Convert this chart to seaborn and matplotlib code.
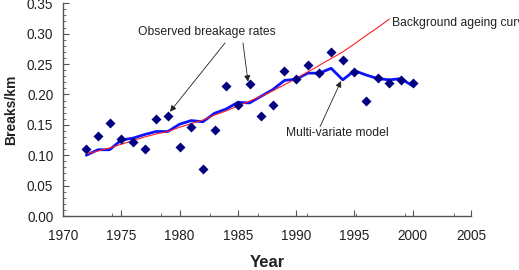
import matplotlib
matplotlib.use("Agg")
import matplotlib.pyplot as plt
import seaborn as sns
import numpy as np
import pandas as pd

# ---- data ----
years_obs = list(range(1972, 2001))
observed = [0.110, 0.132, 0.153, 0.127, 0.121, 0.110, 0.160, 0.164, 0.114, 0.147,
            0.077, 0.142, 0.214, 0.183, 0.217, 0.164, 0.183, 0.238, 0.225, 0.248,
            0.235, 0.269, 0.257, 0.237, 0.190, 0.227, 0.218, 0.223, 0.219]
multivariate = [0.100, 0.109, 0.109, 0.125, 0.128, 0.134, 0.139, 0.139, 0.151, 0.157,
                0.155, 0.169, 0.176, 0.187, 0.186, 0.197, 0.208, 0.223, 0.225, 0.235,
                0.235, 0.243, 0.224, 0.239, 0.232, 0.226, 0.224, 0.226, 0.214]
years_bg = list(range(1972, 1999))
background = [0.102, 0.107, 0.112, 0.118, 0.124, 0.130, 0.135, 0.139, 0.146, 0.152,
              0.158, 0.166, 0.173, 0.181, 0.189, 0.197, 0.206, 0.216, 0.226, 0.237,
              0.248, 0.259, 0.270, 0.283, 0.297, 0.310, 0.324]
x_ticks = [1970, 1975, 1980, 1985, 1990, 1995, 2000, 2005]
y_ticks = [0.00, 0.05, 0.10, 0.15, 0.20, 0.25, 0.30, 0.35]

df_obs = pd.DataFrame({"Year": years_obs, "Observed": observed, "Model": multivariate})
df_bg = pd.DataFrame({"Year": years_bg, "Background": background})

sns.set_style("ticks")
plt.rcParams["font.family"] = ["Liberation Sans", "DejaVu Sans"]

fig = plt.figure(figsize=(5.19, 2.70), dpi=100)
ax = fig.add_axes([0.1214, 0.2, 0.9075 - 0.1214, 0.988 - 0.2])

sns.lineplot(data=df_obs, x="Year", y="Model", ax=ax, color="#0a14ff", lw=2.0, zorder=2)
sns.lineplot(data=df_bg, x="Year", y="Background", ax=ax, color="#ff2020", lw=0.8, zorder=3)
sns.scatterplot(data=df_obs, x="Year", y="Observed", ax=ax, marker="D", s=26,
                color="#000080", edgecolor="#000080", linewidth=0, zorder=4)

ax.set_xlim(1970, 2005)
ax.set_ylim(0, 0.35)
ax.set_xticks(x_ticks)
ax.set_xticklabels([str(t) for t in x_ticks])
ax.set_yticks(y_ticks)
ax.set_yticklabels([f"{t:.2f}" for t in y_ticks])
ax.set_xticks([1970 + k * 4.19 for k in range(1, 9)], minor=True)
ax.set_yticks(np.arange(0, 0.351, 0.01), minor=True)

tc = "#222222"
ax.tick_params(axis="x", which="major", direction="in", length=4, width=0.8,
               labelsize=9.8, colors="#555555", labelcolor=tc, pad=9)
ax.tick_params(axis="y", which="major", direction="in", length=4, width=0.8,
               labelsize=9.8, colors="#555555", labelcolor=tc, pad=7)
ax.tick_params(axis="both", which="minor", direction="in", length=2.5, width=0.6,
               colors="#555555")
for s in ["top", "right"]:
    ax.spines[s].set_visible(False)
for s in ["left", "bottom"]:
    ax.spines[s].set_color("#555555")
    ax.spines[s].set_linewidth(1.0)

ax.set_xlabel("Year", fontsize=12, fontweight="bold", color=tc, labelpad=9)
ax.set_ylabel("Breaks/km", fontsize=10, fontweight="bold", color=tc, labelpad=6)

ap = dict(arrowstyle="-|>", color="#222222", lw=0.6, mutation_scale=9, shrinkA=0, shrinkB=0)
ax.text(1982.35, 0.303, "Observed breakage rates", fontsize=8.7, ha="center", va="center", color=tc)
ax.annotate("", xy=(1979.18, 0.1716), xytext=(1983.9, 0.2847), arrowprops=ap)
ax.annotate("", xy=(1985.87, 0.221), xytext=(1985.44, 0.2847), arrowprops=ap)
ax.text(1993.5, 0.1366, "Multi-variate model", fontsize=8.7, ha="center", va="center", color=tc)
ax.annotate("", xy=(1993.85, 0.222), xytext=(1992.05, 0.147), arrowprops=ap)
ax.text(1998.2, 0.318, "Background ageing curve", fontsize=8.7, ha="left", va="center",
        color=tc, clip_on=False)

fig.savefig("out.png", dpi=100)
